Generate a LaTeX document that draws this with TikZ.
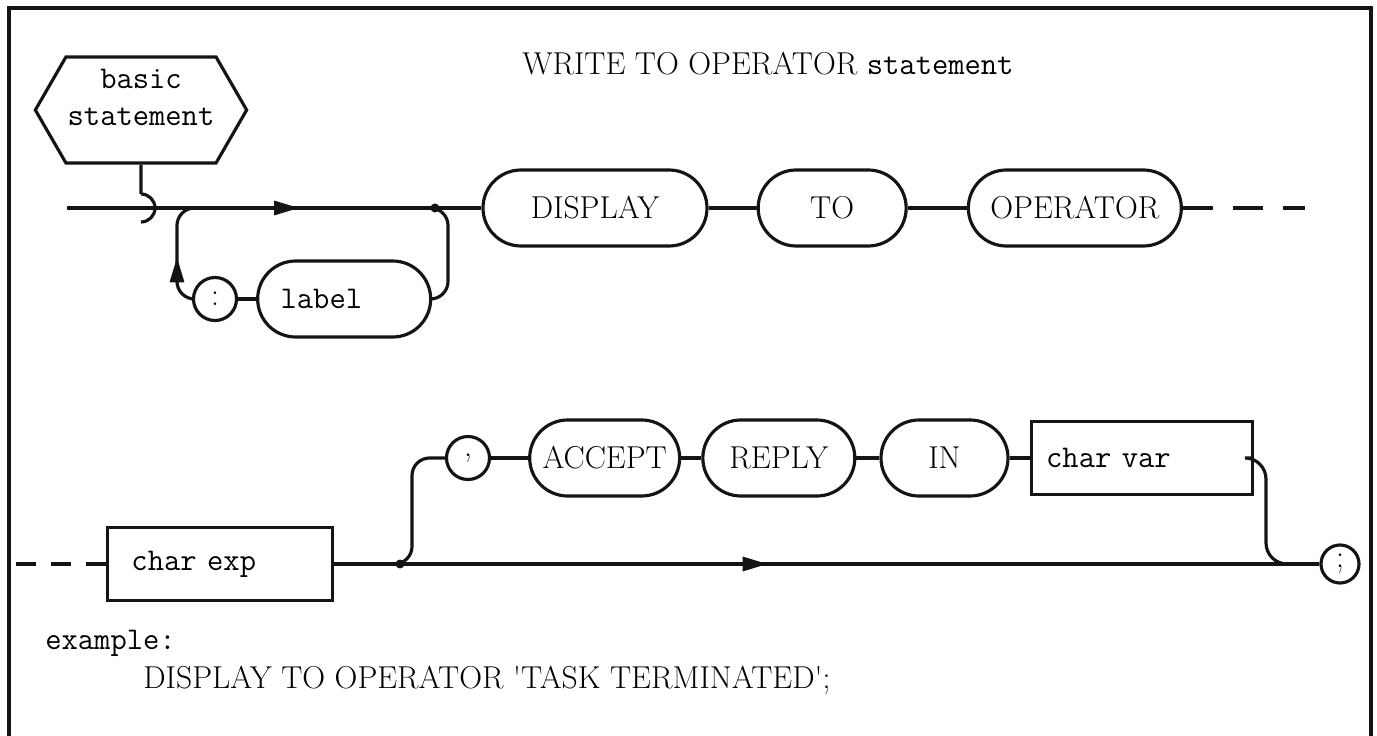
\documentclass[tikz,border=0pt]{standalone}
\usepackage{tikz}
\usetikzlibrary{arrows.meta,positioning,shapes.symbols,decorations.markings}
\definecolor{ink}{RGB}{20,20,20}
\newcommand{\kwfont}{\fontsize{18}{21}\selectfont}
\newcommand{\ntfont}{\ttfamily\fontsize{18}{21}\selectfont}
\tikzset{
  kw/.style={draw=ink,line width=1.8pt,rounded corners=7.6mm,minimum height=15.2mm,font=\kwfont,inner sep=1mm},
  ntbox/.style={draw=ink,line width=1.8pt,rectangle,minimum height=14.6mm,font=\ntfont,align=left},
  lit/.style={draw=ink,line width=1.8pt,circle,minimum size=8.6mm,inner sep=0pt,font=\kwfont},
  hexa/.style={draw=ink,line width=1.8pt,signal,signal to=west and east,signal pointer angle=120,
    minimum width=36.4mm,minimum height=21.2mm,font=\ntfont,align=center,inner sep=1pt,text depth=5mm},
  flow/.style={line width=1.8pt,draw=ink},
  midarr/.style={postaction={decorate},decoration={markings,
    mark=at position #1 with {\arrow{Triangle[length=5mm,width=2.8mm]}}}},
  cont/.style={flow,dash pattern=on 6mm off 4mm},
  txt/.style={font=\kwfont,anchor=west,inner sep=0pt},
}

\begin{document}
\begin{tikzpicture}[x=0.2mm,y=-0.2mm]
  \useasboundingbox (0,0) rectangle (1377,736);
  \draw[flow,line width=2pt] (9,736) -- (9,8) -- (1371,8) -- (1371,736);

  \node[txt] (title) at (522,64) {WRITE TO OPERATOR {\ntfont statement}};
  \node[hexa] (bs) at (141,110) {basic\\statement};

  % first line
  \node[kw,minimum width=44.8mm] (disp) at (595,208) {DISPLAY};
  \node[kw,minimum width=29.6mm,right=9.6mm of disp] (to) {TO};
  \node[kw,minimum width=42.6mm,right=11.8mm of to] (oper) {OPERATOR};
  \node[lit] (colon) at (215,299) {:};
  \node[kw,font=\ntfont,text width=25.4mm,inner xsep=4.6mm,align=left,right=3.6mm of colon] (lab) {label};

  \coordinate (in1) at (67,208);
  \coordinate (jmp) at (141,194);
  \coordinate (b1) at (177,208);
  \coordinate (b2) at (448,208);
  \coordinate (j1) at (435,208);
  \coordinate (out1) at (1305,208);

  \draw[flow,midarr=0.56] (in1) -- (disp);
  \draw[flow] (bs) -- (jmp);
  \draw[flow] (jmp) arc[start angle=-90,end angle=90,radius=14];
  \draw[flow,rounded corners=10,midarr=0.46] (colon) -| (b1) -- ++(13,0);
  \draw[flow] (colon) -- (lab);
  \draw[flow,rounded corners=10] (lab) -| (b2) -- (j1);
  \fill[ink] (j1) circle (4.5);
  \draw[flow] (disp) -- (to);
  \draw[flow] (to) -- (oper);
  \draw[cont] (oper) -- (out1);

  % second line
  \node[ntbox,text width=35.4mm,inner xsep=4.8mm] (cexp) at (220,564) {char exp};
  \node[lit] (comma) at (468,458) {,};
  \node[kw,minimum width=30mm,right=7.4mm of comma] (acc) {ACCEPT};
  \node[kw,minimum width=30.4mm,right=4mm of acc] (rep) {REPLY};
  \node[kw,minimum width=25.4mm,right=4.6mm of rep] (inn) {IN};
  \node[ntbox,text width=38.2mm,inner xsep=3mm,right=4mm of inn] (cvar) {char var};
  \node[lit,minimum size=7.6mm] (semi) at (1340,564) {;};

  \coordinate (in2) at (10,564);
  \coordinate (j2) at (400,564);
  \coordinate (b3) at (412,458);
  \coordinate (b4) at (1266,564);

  \draw[flow,dash pattern=on 4mm off 3mm] (cexp) -- (in2);
  \draw[flow,midarr=0.44] (cexp) -- (semi);
  \fill[ink] (j2) circle (4.5);
  \draw[flow,rounded corners=10] (j2) -| (b3) -- (comma);
  \draw[flow] (comma) -- (acc);
  \draw[flow] (acc) -- (rep);
  \draw[flow] (rep) -- (inn);
  \draw[flow] (inn) -- (cvar);
  \draw[flow,rounded corners=12] (cvar) -| (b4) -- (semi);

  \node[txt,font=\ntfont] (exlbl) at (45,643) {example:};
  \node[txt] (exline) at (143,680) {DISPLAY TO OPERATOR \textquotesingle TASK TERMINATED\textquotesingle;};
\end{tikzpicture}
\end{document}
